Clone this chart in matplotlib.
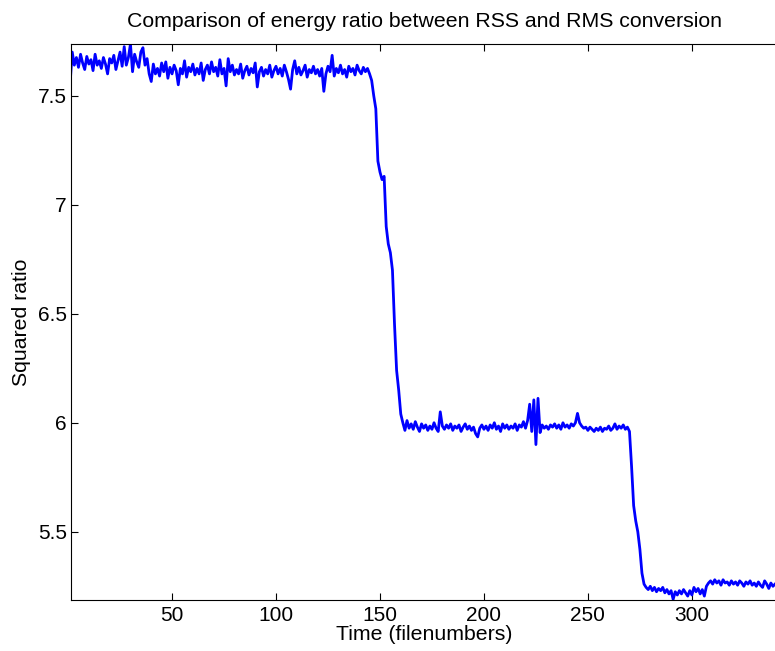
import numpy as np
import matplotlib
matplotlib.use('Agg')
import matplotlib.pyplot as plt

# --- data (one value per file number) ---
plateau_high = [
    7.560, 7.700, 7.640, 7.675, 7.630, 7.690, 7.650, 7.620, 7.680, 7.645,
    7.665, 7.615, 7.690, 7.640, 7.660, 7.625, 7.675, 7.645, 7.600, 7.670,
    7.650, 7.685, 7.620, 7.660, 7.700, 7.635, 7.725, 7.640, 7.675, 7.737,
    7.610, 7.690, 7.655, 7.630, 7.700, 7.720, 7.640, 7.670, 7.600, 7.565,
    7.645, 7.600, 7.625, 7.590, 7.650, 7.610, 7.655, 7.580, 7.630, 7.600,
    7.640, 7.615, 7.550, 7.625, 7.600, 7.660, 7.585, 7.630, 7.610, 7.645,
    7.595, 7.625, 7.600, 7.650, 7.570, 7.620, 7.640, 7.600, 7.655, 7.610,
    7.630, 7.590, 7.665, 7.600, 7.625, 7.545, 7.670, 7.610, 7.640, 7.595,
    7.620, 7.600, 7.645, 7.580, 7.615, 7.635, 7.595, 7.625, 7.605, 7.650,
    7.540, 7.610, 7.630, 7.590, 7.620, 7.600, 7.640, 7.585, 7.615, 7.635,
    7.600, 7.625, 7.590, 7.640, 7.610, 7.575, 7.530, 7.620, 7.660, 7.600,
    7.630, 7.595, 7.615, 7.640, 7.585, 7.620, 7.605, 7.635, 7.600, 7.620,
    7.590, 7.625, 7.520, 7.600, 7.635, 7.610, 7.685, 7.590, 7.625, 7.605,
    7.640, 7.600, 7.620, 7.585, 7.635, 7.610, 7.625, 7.595, 7.640, 7.615,
    7.600, 7.630, 7.610, 7.625, 7.600,
]
drop_first = [
    7.570, 7.500, 7.440, 7.200, 7.150, 7.115, 7.130, 6.900, 6.820, 6.780,
    6.700, 6.450, 6.240, 6.150, 6.040,
]
plateau_mid = [
    6.000, 5.965, 6.010, 5.975, 5.995, 5.970, 6.005, 5.980, 5.960, 5.995,
    5.975, 5.990, 5.965, 5.985, 5.970, 6.000, 5.975, 5.960, 6.050, 5.985,
    5.970, 5.990, 5.975, 5.995, 5.965, 5.985, 5.975, 5.990, 5.960, 5.980,
    5.995, 5.970, 5.985, 5.965, 5.980, 5.950, 5.935, 5.975, 5.990, 5.970,
    5.985, 5.965, 5.990, 5.975, 6.000, 5.970, 5.985, 5.960, 5.995, 5.975,
    5.990, 5.970, 5.985, 5.975, 5.995, 5.965, 5.990, 5.980, 6.005, 5.975,
    6.010, 6.085, 5.960, 6.105, 5.900, 6.112, 5.955, 5.990, 5.975, 5.985,
    5.970, 5.990, 5.980, 5.995, 5.975, 5.990, 5.970, 6.000, 5.980, 5.990,
    5.975, 5.995, 5.985, 6.000, 6.043, 6.000, 5.985, 5.975, 5.980, 5.965,
    5.980, 5.970, 5.960, 5.975, 5.965, 5.980, 5.960, 5.975, 5.970, 5.985,
    5.965, 5.975, 5.995, 5.970, 5.985, 5.975, 5.990, 5.970, 5.980,
]
drop_second = [5.960, 5.800, 5.620, 5.550, 5.500, 5.420, 5.310, 5.260]
plateau_low = [
    5.245, 5.235, 5.250, 5.230, 5.245, 5.225, 5.240, 5.230, 5.245, 5.220,
    5.235, 5.215, 5.230, 5.190, 5.225, 5.210, 5.230, 5.215, 5.235, 5.220,
    5.205, 5.230, 5.210, 5.245, 5.225, 5.240, 5.215, 5.235, 5.205, 5.250,
    5.265, 5.275, 5.260, 5.280, 5.265, 5.275, 5.255, 5.280, 5.265, 5.270,
    5.255, 5.275, 5.260, 5.270, 5.255, 5.275, 5.265, 5.250, 5.270, 5.260,
    5.275, 5.255, 5.265, 5.250, 5.270, 5.255, 5.245, 5.275, 5.260, 5.240,
    5.265, 5.250, 5.260,
]

ratio = np.array(plateau_high + drop_first + plateau_mid + drop_second + plateau_low)
filenum = np.arange(1, len(ratio) + 1)

x_ticks = [50, 100, 150, 200, 250, 300]
y_ticks = [5.5, 6, 6.5, 7, 7.5]

# --- plot ---
plt.rcParams['font.family'] = ['Liberation Sans', 'DejaVu Sans']

fig = plt.figure(figsize=(7.75, 6.51), dpi=100)
ax = fig.add_axes([0.0916, 0.0783, 0.9114, 0.8541])

ax.plot(filenum, ratio, color='#0000ff', linewidth=2.0)

ax.set_xlim(1.4, 341.1)
ax.set_ylim(5.187, 7.737)
ax.set_xticks(x_ticks)
ax.set_xticklabels([str(t) for t in x_ticks])
ax.set_yticks(y_ticks)
ax.set_yticklabels(['5.5', '6', '6.5', '7', '7.5'])

# MATLAB-like box: inward ticks, mirrored on top (right edge is cropped off)
ax.tick_params(direction='in', length=5, width=0.8, labelsize=15,
               top=True, right=False, pad=3)
ax.tick_params(axis='x', pad=4)
for s in ax.spines.values():
    s.set_linewidth(0.8)

ax.set_title('Comparison of energy ratio between RSS and RMS conversion',
             fontsize=15.3, pad=12)
ax.set_xlabel('Time (filenumbers)', fontsize=15.3, labelpad=0)
ax.set_ylabel('Squared ratio', fontsize=15.3, labelpad=5)

fig.savefig('out.png', dpi=100)
